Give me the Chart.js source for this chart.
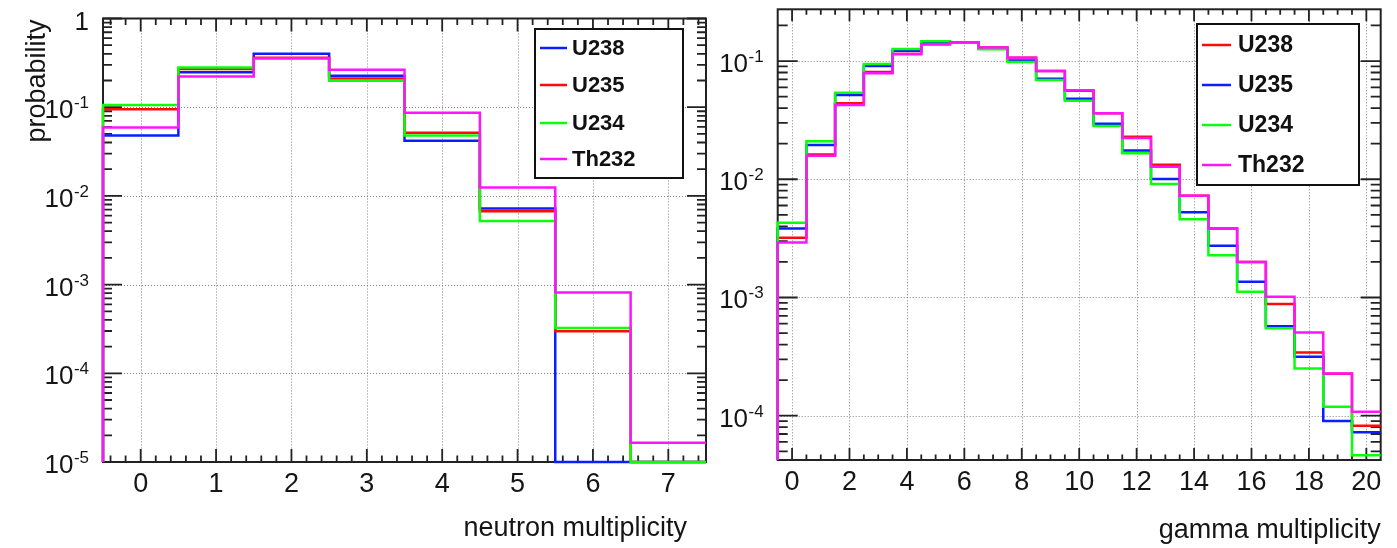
<!DOCTYPE html>
<html>
<head>
<meta charset="utf-8">
<script src="https://cdn.jsdelivr.net/npm/chart.js@4/dist/chart.umd.min.js"></script>
<style>
  html, body { margin: 0; padding: 0; background: #fff; }
  #wrap { position: relative; width: 1397px; height: 548px; overflow: hidden; }
  canvas { position: absolute; top: 0; }
  #neutron { left: 0; }
  #gamma { left: 712px; }
</style>
</head>
<body>
<div id="wrap">
  <canvas id="neutron" width="712" height="548"></canvas>
  <canvas id="gamma" width="685" height="548"></canvas>
</div>
<script>
// ---- Neutron multiplicity per fission (bins centred on 0..7) ----
const neutronBins   = [0, 1, 2, 3, 4, 5, 6, 7];
const neutronU238   = [0.048, 0.247, 0.400, 0.226, 0.0418, 0.00721, 0, 0];
const neutronU235   = [0.095, 0.270, 0.360, 0.211, 0.0514, 0.00672, 0.000297, 0];
const neutronU234   = [0.106, 0.281, 0.355, 0.199, 0.0480, 0.00522, 0.000324, 0];
const neutronTh232  = [0.059, 0.222, 0.356, 0.265, 0.0865, 0.01244, 0.000812, 0.0000165];
const neutronTicks  = [0, 1, 2, 3, 4, 5, 6, 7];
const neutronDecades = [0, -1, -2, -3, -4, -5];

// ---- Gamma multiplicity per fission (bins centred on 0..20) ----
const gammaBins  = [0, 1, 2, 3, 4, 5, 6, 7, 8, 9, 10, 11, 12, 13, 14, 15, 16, 17, 18, 19, 20];
const gammaU238  = [0.0032, 0.0162, 0.0439, 0.0807, 0.1146, 0.139, 0.144, 0.130, 0.1067, 0.0823, 0.0561,
                    0.0361, 0.0229, 0.01328, 0.00725, 0.00384, 0.0020, 0.00088, 0.000343, 0.000226, 0.0000822];
const gammaU235  = [0.00384, 0.01945, 0.0515, 0.0907, 0.1223, 0.143, 0.144, 0.127, 0.101, 0.0709, 0.0480,
                    0.0295, 0.01755, 0.01004, 0.00525, 0.00274, 0.00136, 0.00057, 0.000315, 0.000090, 0.0000723];
const gammaU234  = [0.00428, 0.0210, 0.0540, 0.0944, 0.1265, 0.147, 0.144, 0.1257, 0.098, 0.069, 0.0461,
                    0.0282, 0.01656, 0.0091, 0.0046, 0.00228, 0.00112, 0.00055, 0.000251, 0.000119, 0.0000464];
const gammaTh232 = [0.00292, 0.0158, 0.0425, 0.0787, 0.1146, 0.139, 0.144, 0.130, 0.1067, 0.0823, 0.0565,
                    0.0361, 0.0223, 0.01277, 0.00725, 0.00384, 0.0020, 0.001015, 0.000506, 0.000228, 0.000108];
const gammaTicks   = [0, 2, 4, 6, 8, 10, 12, 14, 16, 18, 20];
const gammaDecades = [-1, -2, -3, -4];

const FONT = "'Liberation Sans', Arial, Helvetica, sans-serif";
const COLORS = { blue: '#0a1eff', red: '#ff0a0a', green: '#0aff0a', magenta: '#ff14ff' };

// Histogram outline: one point on the left edge of every bin (value held across the bin),
// a closing point on the right edge, and a leading point so the outline rises from the axis.
// Empty bins sit on the lower edge of the log axis.
function histPoints(bins, values, floor) {
  const pts = [{ x: bins[0] - 0.5, y: floor }];
  bins.forEach((b, i) => pts.push({ x: b - 0.5, y: Math.max(values[i], floor) }));
  pts.push({ x: bins[bins.length - 1] + 0.5, y: Math.max(values[values.length - 1], floor) });
  return pts;
}

// Later series are painted over earlier ones (lower order = drawn on top).
function histDataset(label, color, bins, values, floor, layer) {
  return {
    label, data: histPoints(bins, values, floor), order: 10 - layer,
    borderColor: color, backgroundColor: color, borderWidth: 2.5,
    stepped: true, pointRadius: 0, pointHoverRadius: 0, fill: false,
    borderJoinStyle: 'miter', borderCapStyle: 'butt', clip: 6
  };
}

// Frame, inward ticks, dotted grid, tick labels, axis titles and the boxed legend.
const rootFrame = {
  id: 'rootFrame',
  beforeDatasetsDraw(chart, args, o) {
    const { ctx, chartArea: a, scales: { x, y } } = chart;
    ctx.save();
    // dotted grid at labelled positions
    ctx.strokeStyle = o.gridColor; ctx.lineWidth = 1; ctx.setLineDash([1, 2]);
    ctx.beginPath();
    o.xTicks.forEach(v => {
      const px = Math.round(x.getPixelForValue(v)) + 0.5;
      ctx.moveTo(px, a.top); ctx.lineTo(px, a.bottom);
    });
    o.decades.forEach(e => {
      const py = Math.round(y.getPixelForValue(Math.pow(10, e))) + 0.5;
      if (py <= a.top + 2 || py >= a.bottom - 2) return;
      ctx.moveTo(a.left, py); ctx.lineTo(a.right, py);
    });
    ctx.stroke();
    ctx.setLineDash([]);

    // inward tick marks on all four sides
    ctx.strokeStyle = o.axisColor; ctx.lineWidth = 1.8;
    ctx.beginPath();
    const s = o.xMinorStep;
    const k0 = Math.ceil(x.min / s - 1e-6), k1 = Math.floor(x.max / s + 1e-6);
    for (let k = k0; k <= k1; k++) {
      const v = k * s;
      if (Math.abs(v - x.min) < 1e-6 || Math.abs(v - x.max) < 1e-6) continue;
      const major = o.xTicks.some(t => Math.abs(t - v) < 1e-6);
      const len = major ? o.xMajorLen : o.xMinorLen;
      const px = x.getPixelForValue(v);
      ctx.moveTo(px, a.bottom); ctx.lineTo(px, a.bottom - len);
      ctx.moveTo(px, a.top); ctx.lineTo(px, a.top + len);
    }
    const e0 = Math.floor(Math.log10(y.min)), e1 = Math.ceil(Math.log10(y.max));
    for (let e = e0; e <= e1; e++) {
      for (let m = 1; m <= 9; m++) {
        const v = m * Math.pow(10, e);
        if (v < y.min * 0.9999 || v > y.max * 1.0001) continue;
        const py = y.getPixelForValue(v);
        const len = m === 1 ? o.yMajorLen : o.yMinorLen;
        ctx.moveTo(a.left, py); ctx.lineTo(a.left + len, py);
        ctx.moveTo(a.right, py); ctx.lineTo(a.right - len, py);
      }
    }
    ctx.stroke();

    // frame
    ctx.lineWidth = 2;
    ctx.strokeRect(a.left, a.top, a.right - a.left, a.bottom - a.top);
    ctx.restore();
  },
  afterDatasetsDraw(chart, args, o) {
    const { ctx, chartArea: a, scales: { x, y } } = chart;
    ctx.save();
    ctx.fillStyle = o.textColor;

    // x tick labels
    ctx.font = `${o.xLabelSize}px ${FONT}`;
    ctx.textAlign = 'center'; ctx.textBaseline = 'alphabetic';
    o.xTicks.forEach(v => ctx.fillText(String(v), x.getPixelForValue(v), a.bottom + o.xLabelDy));

    // y tick labels with raised exponents
    const baseFont = `${o.yLabelSize}px ${FONT}`;
    const supFont = `${o.ySupSize}px ${FONT}`;
    ctx.textAlign = 'right';
    o.decades.forEach(e => {
      const py = y.getPixelForValue(Math.pow(10, e));
      const rx = a.left - o.yLabelGap;
      if (e === 0) {
        ctx.font = baseFont; ctx.fillText('1', rx, py + o.yBaseDy);
        return;
      }
      const exp = String(e);
      ctx.font = supFont; ctx.fillText(exp, rx, py + o.ySupDy);
      const w = ctx.measureText(exp).width;
      ctx.font = baseFont; ctx.fillText('10', rx - w - 0.5, py + o.yBaseDy);
    });

    // axis titles
    ctx.font = `${o.titleSize}px ${FONT}`;
    ctx.textAlign = 'right';
    ctx.fillText(o.xTitle, a.right + o.xTitleDx, a.bottom + o.xTitleDy);
    if (o.yTitle) {
      ctx.save();
      ctx.translate(o.yTitleX, a.top + o.yTitleDy);
      ctx.rotate(-Math.PI / 2);
      ctx.textAlign = 'right';
      ctx.fillText(o.yTitle, 0, 0);
      ctx.restore();
    }

    // legend box
    const L = o.legend;
    ctx.fillStyle = '#fff';
    ctx.fillRect(L.x, L.y, L.w, L.h);
    ctx.strokeStyle = '#111'; ctx.lineWidth = 2;
    ctx.strokeRect(L.x, L.y, L.w, L.h);
    ctx.font = `bold ${L.fontSize}px ${FONT}`;
    ctx.textAlign = 'left'; ctx.textBaseline = 'middle';
    chart.data.datasets.forEach((ds, i) => {
      const ry = L.rows[i];
      ctx.strokeStyle = ds.borderColor; ctx.lineWidth = 2.5;
      ctx.beginPath(); ctx.moveTo(L.lineX0, ry); ctx.lineTo(L.lineX1, ry); ctx.stroke();
      ctx.fillStyle = '#111';
      ctx.fillText(ds.label, L.textX, ry + 1);
    });
    ctx.restore();
  }
};

function makeChart(canvasId, cfg) {
  return new Chart(document.getElementById(canvasId), {
    type: 'line',
    data: { datasets: cfg.datasets },
    options: {
      responsive: false, animation: false, devicePixelRatio: 1,
      events: [],
      layout: { padding: cfg.padding },
      plugins: { legend: { display: false }, tooltip: { enabled: false }, rootFrame: cfg.frame },
      scales: {
        x: {
          type: 'linear', min: cfg.xMin, max: cfg.xMax,
          ticks: { display: false }, grid: { display: false }, border: { display: false },
          afterFit: s => { s.height = cfg.xAxisHeight; }
        },
        y: {
          type: 'logarithmic', min: cfg.yMin, max: cfg.yMax,
          ticks: { display: false }, grid: { display: false }, border: { display: false },
          afterFit: s => { s.width = cfg.yAxisWidth; }
        }
      }
    },
    plugins: [rootFrame]
  });
}

const commonFrame = {
  gridColor: 'rgba(110,110,110,0.85)', axisColor: '#222', textColor: '#151515',
  xLabelSize: 27, yLabelSize: 26, ySupSize: 17, titleSize: 27,
  yLabelGap: 14, yBaseDy: 11, ySupDy: 1
};

// Left panel: neutron multiplicity
const nMin = 1e-5, nMax = 1;
makeChart('neutron', {
  xMin: -0.5, xMax: 7.5, yMin: nMin, yMax: nMax,
  padding: { left: 0, right: 6, top: 18.5, bottom: 0 },
  xAxisHeight: 86, yAxisWidth: 103,
  datasets: [
    histDataset('U238', COLORS.blue, neutronBins, neutronU238, nMin, 0),
    histDataset('U235', COLORS.red, neutronBins, neutronU235, nMin, 1),
    histDataset('U234', COLORS.green, neutronBins, neutronU234, nMin, 2),
    histDataset('Th232', COLORS.magenta, neutronBins, neutronTh232, nMin, 3)
  ],
  frame: Object.assign({}, commonFrame, {
    xTicks: neutronTicks, decades: neutronDecades, xMinorStep: 0.2,
    xMajorLen: 13, xMinorLen: 6.5, yMajorLen: 19, yMinorLen: 9,
    xLabelDy: 30, xTitle: 'neutron multiplicity', xTitleDx: -19, xTitleDy: 74,
    yTitle: 'probability', yTitleX: 45, yTitleDy: 1,
    legend: { x: 535, y: 29, w: 148, h: 149, fontSize: 22, lineX0: 540, lineX1: 567, textX: 572,
              rows: [48, 85, 123, 159] }
  })
});

// Right panel: gamma multiplicity
const gMin = 4.22e-5, gMax = 0.274;
makeChart('gamma', {
  xMin: -0.5, xMax: 20.5, yMin: gMin, yMax: gMax,
  padding: { left: 0, right: 16.3, top: 9.3, bottom: 0 },
  xAxisHeight: 88, yAxisWidth: 65.7,
  datasets: [
    histDataset('U238', COLORS.red, gammaBins, gammaU238, gMin, 0),
    histDataset('U235', COLORS.blue, gammaBins, gammaU235, gMin, 1),
    histDataset('U234', COLORS.green, gammaBins, gammaU234, gMin, 2),
    histDataset('Th232', COLORS.magenta, gammaBins, gammaTh232, gMin, 3)
  ],
  frame: Object.assign({}, commonFrame, {
    xTicks: gammaTicks, decades: gammaDecades, xMinorStep: 0.5,
    xMajorLen: 12, xMinorLen: 5.5, yMajorLen: 20, yMinorLen: 10,
    xLabelDy: 30, xTitle: 'gamma multiplicity', xTitleDx: 0, xTitleDy: 78,
    yTitle: null,
    legend: { x: 485, y: 24, w: 162, h: 161, fontSize: 23, lineX0: 490, lineX1: 519, textX: 526,
              rows: [45, 85, 125, 165] }
  })
});
</script>
</body>
</html>
